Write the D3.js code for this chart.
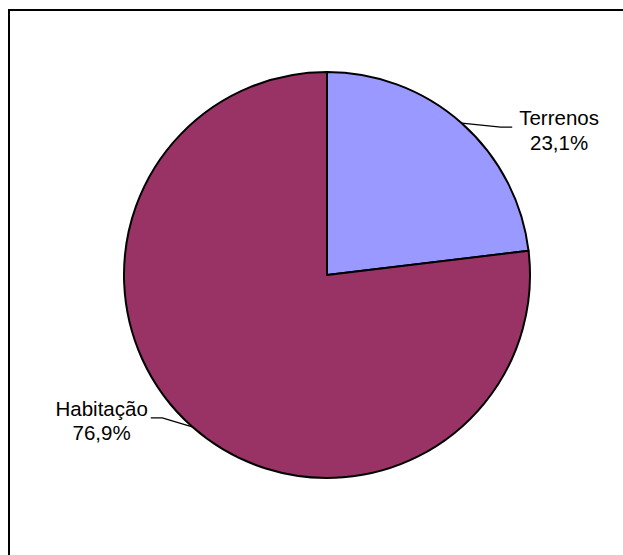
<!DOCTYPE html>
<html>
<head>
<meta charset="utf-8">
<script src="https://cdn.jsdelivr.net/npm/d3@7"></script>
<style>
  html, body { margin: 0; padding: 0; background: #fff; overflow: hidden; }
  svg { display: block; }
  text { font-family: "Liberation Sans", Arial, sans-serif; }
</style>
</head>
<body>
<svg id="chart" width="623" height="555"></svg>
<script>
// Data
const categories = ["Terrenos", "Habitação"];
const values = [23.1, 76.9];
const valueLabels = ["23,1%", "76,9%"];
const colors = ["#9999FF", "#993366"];

// Layout (style only)
const W = 623, H = 555;
const cx = 327, cy = 275, R = 203;
const fontSize = 20.5;
// leader elbow offsets from the slice edge point, and horizontal segment direction
const leader = [
  { dx: 39, dy: 4, dir: 1, seg: 11.5, gap: 7 },
  { dx: -30, dy: -9, dir: -1, seg: 11.5, gap: 3 }
];

const svg = d3.select("#chart");

// outer frame (right and bottom edges fall outside the picture)
svg.append("rect")
  .attr("x", 9).attr("y", 10)
  .attr("width", 800).attr("height", 800)
  .attr("fill", "none").attr("stroke", "#000").attr("stroke-width", 2);

const data = categories.map((c, i) => ({ cat: c, value: values[i], label: valueLabels[i], color: colors[i], i }));

const pie = d3.pie().value(d => d.value).sort(null).startAngle(0).endAngle(2 * Math.PI);
const arcs = pie(data);
const arc = d3.arc().innerRadius(0).outerRadius(R);

const g = svg.append("g").attr("transform", `translate(${cx},${cy})`);

g.selectAll("path.slice")
  .data(arcs)
  .join("path")
  .attr("class", "slice")
  .attr("d", arc)
  .attr("fill", d => d.data.color)
  .attr("stroke", "#000")
  .attr("stroke-width", 2)
  .attr("stroke-linejoin", "round");

const edgeArc = d3.arc().innerRadius(R).outerRadius(R);

arcs.forEach(a => {
  const L = leader[a.data.i];
  const [ex, ey] = edgeArc.centroid(a);
  const bx = ex + L.dx, by = ey + L.dy;
  const hx = bx + L.dir * L.seg;
  g.append("polyline")
    .attr("points", `${ex},${ey} ${bx},${by} ${hx},${by}`)
    .attr("fill", "none").attr("stroke", "#000").attr("stroke-width", 1.4);

  const t = g.append("text")
    .attr("font-size", fontSize)
    .attr("fill", "#000")
    .attr("text-anchor", "middle");
  const l1 = t.append("tspan").text(a.data.cat);
  const l2 = t.append("tspan").text(a.data.label);
  const w = Math.max(l1.node().getComputedTextLength(), l2.node().getComputedTextLength());
  const tx = L.dir > 0 ? hx + L.gap + w / 2 : hx - L.gap - w / 2;
  const y1 = by - 2;
  l1.attr("x", tx).attr("y", y1);
  l2.attr("x", tx).attr("y", y1 + 24.5);
});
</script>
</body>
</html>
